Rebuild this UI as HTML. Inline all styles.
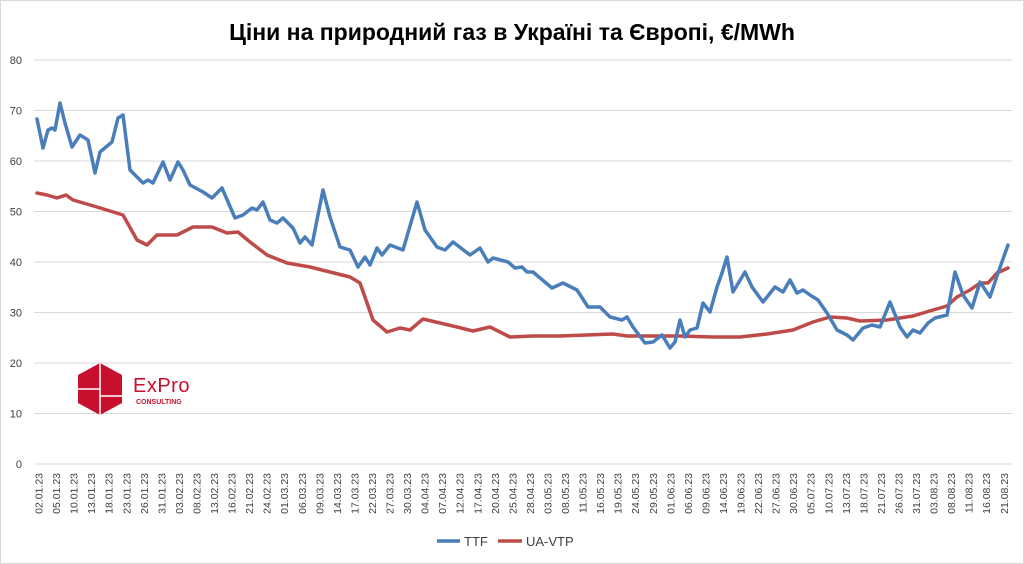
<!DOCTYPE html>
<html><head><meta charset="utf-8"><style>
body{margin:0;background:#fff}
svg{display:block;font-family:"Liberation Sans",sans-serif}
</style></head><body>
<svg width="1024" height="564" viewBox="0 0 1024 564">
<rect x="0.5" y="0.5" width="1023" height="563" fill="#fff" stroke="#d9d9d9"/>
<text x="512" y="40" text-anchor="middle" font-size="23" font-weight="bold" fill="#000">Ціни на природний газ в Україні та Європі, €/MWh</text>
<g stroke="#d9d9d9" stroke-width="1">
<line x1="34" x2="1012" y1="60" y2="60"/><line x1="34" x2="1012" y1="110.5" y2="110.5"/>
<line x1="34" x2="1012" y1="161" y2="161"/><line x1="34" x2="1012" y1="211.5" y2="211.5"/>
<line x1="34" x2="1012" y1="262" y2="262"/><line x1="34" x2="1012" y1="312.5" y2="312.5"/>
<line x1="34" x2="1012" y1="363" y2="363"/><line x1="34" x2="1012" y1="413.5" y2="413.5"/>
<line x1="34" x2="1012" y1="464" y2="464"/>
</g>
<g font-size="11" fill="#404040" text-anchor="end">
<text x="22" y="64">80</text><text x="22" y="114.5">70</text><text x="22" y="165">60</text>
<text x="22" y="215.5">50</text><text x="22" y="266">40</text><text x="22" y="316.5">30</text>
<text x="22" y="367">20</text><text x="22" y="417.5">10</text><text x="22" y="468">0</text>
</g>
<g font-size="10.5" fill="#404040" text-anchor="end">
<text transform="translate(42.5,473) rotate(-90)">02.01.23</text>
<text transform="translate(60.05,473) rotate(-90)">05.01.23</text>
<text transform="translate(77.6,473) rotate(-90)">10.01.23</text>
<text transform="translate(95.15,473) rotate(-90)">13.01.23</text>
<text transform="translate(112.7,473) rotate(-90)">18.01.23</text>
<text transform="translate(130.25,473) rotate(-90)">23.01.23</text>
<text transform="translate(147.8,473) rotate(-90)">26.01.23</text>
<text transform="translate(165.35,473) rotate(-90)">31.01.23</text>
<text transform="translate(182.9,473) rotate(-90)">03.02.23</text>
<text transform="translate(200.45,473) rotate(-90)">08.02.23</text>
<text transform="translate(218,473) rotate(-90)">13.02.23</text>
<text transform="translate(235.55,473) rotate(-90)">16.02.23</text>
<text transform="translate(253.1,473) rotate(-90)">21.02.23</text>
<text transform="translate(270.65,473) rotate(-90)">24.02.23</text>
<text transform="translate(288.2,473) rotate(-90)">01.03.23</text>
<text transform="translate(305.75,473) rotate(-90)">06.03.23</text>
<text transform="translate(323.3,473) rotate(-90)">09.03.23</text>
<text transform="translate(340.85,473) rotate(-90)">14.03.23</text>
<text transform="translate(358.4,473) rotate(-90)">17.03.23</text>
<text transform="translate(375.95,473) rotate(-90)">22.03.23</text>
<text transform="translate(393.5,473) rotate(-90)">27.03.23</text>
<text transform="translate(411.05,473) rotate(-90)">30.03.23</text>
<text transform="translate(428.6,473) rotate(-90)">04.04.23</text>
<text transform="translate(446.15,473) rotate(-90)">07.04.23</text>
<text transform="translate(463.7,473) rotate(-90)">12.04.23</text>
<text transform="translate(481.25,473) rotate(-90)">17.04.23</text>
<text transform="translate(498.8,473) rotate(-90)">20.04.23</text>
<text transform="translate(516.35,473) rotate(-90)">25.04.23</text>
<text transform="translate(533.9,473) rotate(-90)">28.04.23</text>
<text transform="translate(551.45,473) rotate(-90)">03.05.23</text>
<text transform="translate(569,473) rotate(-90)">08.05.23</text>
<text transform="translate(586.55,473) rotate(-90)">11.05.23</text>
<text transform="translate(604.1,473) rotate(-90)">16.05.23</text>
<text transform="translate(621.65,473) rotate(-90)">19.05.23</text>
<text transform="translate(639.2,473) rotate(-90)">24.05.23</text>
<text transform="translate(656.75,473) rotate(-90)">29.05.23</text>
<text transform="translate(674.3,473) rotate(-90)">01.06.23</text>
<text transform="translate(691.85,473) rotate(-90)">06.06.23</text>
<text transform="translate(709.4,473) rotate(-90)">09.06.23</text>
<text transform="translate(726.95,473) rotate(-90)">14.06.23</text>
<text transform="translate(744.5,473) rotate(-90)">19.06.23</text>
<text transform="translate(762.05,473) rotate(-90)">22.06.23</text>
<text transform="translate(779.6,473) rotate(-90)">27.06.23</text>
<text transform="translate(797.15,473) rotate(-90)">30.06.23</text>
<text transform="translate(814.7,473) rotate(-90)">05.07.23</text>
<text transform="translate(832.25,473) rotate(-90)">10.07.23</text>
<text transform="translate(849.8,473) rotate(-90)">13.07.23</text>
<text transform="translate(867.35,473) rotate(-90)">18.07.23</text>
<text transform="translate(884.9,473) rotate(-90)">21.07.23</text>
<text transform="translate(902.45,473) rotate(-90)">26.07.23</text>
<text transform="translate(920,473) rotate(-90)">31.07.23</text>
<text transform="translate(937.55,473) rotate(-90)">03.08.23</text>
<text transform="translate(955.1,473) rotate(-90)">08.08.23</text>
<text transform="translate(972.65,473) rotate(-90)">11.08.23</text>
<text transform="translate(990.2,473) rotate(-90)">16.08.23</text>
<text transform="translate(1007.75,473) rotate(-90)">21.08.23</text>
</g>
<polyline fill="none" stroke="#be4b48" stroke-width="3.5" stroke-linejoin="round" stroke-linecap="round" points="37,193 47,195 57,198 66,195 73,200 97,207 123,215 137,240 147,245 157,235 177,235 193,227 212,227 227,233 238,232 250,242 267,255 287,263 310,267 330,272 350,277 360,283 373,320 387,332 400,328 410,330 423,319 440,323 457,327 473,331 490,327 510,337 533,336 560,336 613,334 627,336 680,336 713,337 740,337 767,334 793,330 813,322 830,317 847,318 860,321 887,320 913,316 933,310 947,306 957,297 970,290 980,283 988,283 997,273 1008,268"/>
<polyline fill="none" stroke="#4a7ebb" stroke-width="3.5" stroke-linejoin="round" stroke-linecap="round" points="37,119 43,148 48,130 52,128 55,130 60,103 65,123 72,147 80,135 88,140 95,173 100,152 112,142 118,118 123,115 130,170 137,177 143,183 148,180 153,183 163,162 170,180 178,162 183,170 190,185 203,192 212,198 222,188 235,218 243,215 252,208 257,210 263,202 270,220 277,223 283,218 293,228 300,243 305,237 312,245 323,190 330,217 340,247 350,250 358,267 365,257 370,265 377,248 382,255 390,245 403,250 417,202 425,230 437,247 445,250 453,242 470,255 480,248 488,262 493,258 508,262 515,268 522,267 527,272 533,272 552,288 563,283 577,290 588,307 600,307 610,317 622,320 627,317 633,327 645,343 653,342 662,335 670,348 675,342 680,320 685,337 690,330 697,328 703,303 710,312 717,287 722,273 727,257 733,292 745,272 752,287 763,302 775,287 783,292 790,280 797,293 803,290 810,295 818,300 827,313 837,330 847,335 853,340 863,328 872,325 880,327 890,302 900,327 907,337 913,330 920,333 928,323 935,318 947,315 955,272 963,295 972,308 980,282 990,297 998,273 1008,245"/>
<g>
<polygon points="100,363 122,375 122,403 100,415 78,403 78,375" fill="#c8102e"/>
<line x1="100" y1="363" x2="100" y2="415" stroke="#fff" stroke-width="1.5"/>
<line x1="78" y1="389" x2="100" y2="389" stroke="#fff" stroke-width="1.5"/>
<line x1="100" y1="396" x2="122" y2="396" stroke="#fff" stroke-width="1.5"/>
<text x="133" y="392" font-size="20" fill="#c8102e" letter-spacing="0.5">ExPro</text>
<text x="136" y="404" font-size="7" font-weight="bold" fill="#c8102e">CONSULTING</text>
</g>
<line x1="437" y1="541" x2="460" y2="541" stroke="#4a7ebb" stroke-width="3.5"/>
<text x="464" y="546" font-size="13" fill="#404040">TTF</text>
<line x1="498" y1="541" x2="522" y2="541" stroke="#be4b48" stroke-width="3.5"/>
<text x="526" y="546" font-size="13" fill="#404040">UA-VTP</text>
</svg>
</body></html>
